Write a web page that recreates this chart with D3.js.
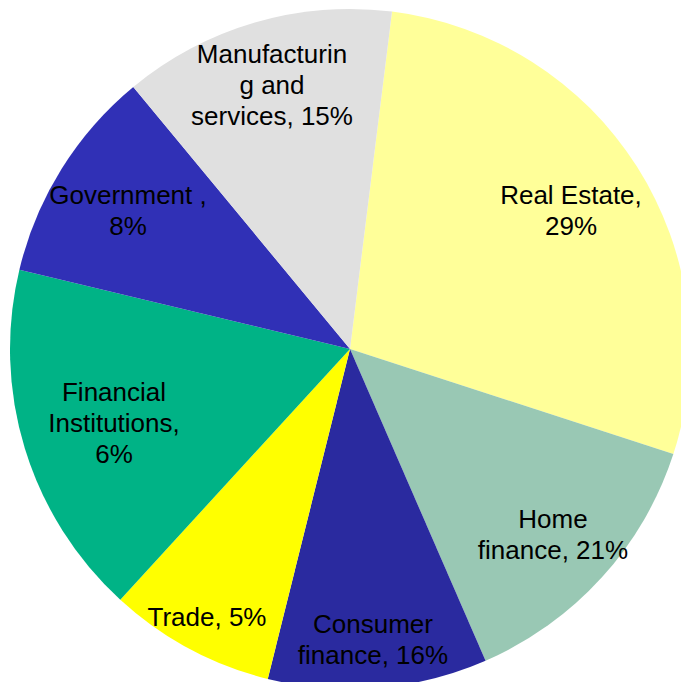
<!DOCTYPE html>
<html>
<head>
<meta charset="utf-8">
<script src="https://cdn.jsdelivr.net/npm/d3@7/dist/d3.min.js"></script>
<style>
  html, body { margin: 0; padding: 0; background: #ffffff; }
  svg { display: block; }
</style>
</head>
<body>
<div id="chart"></div>
<script>
// ---- data (slice shares, in degrees of the circle) ----
const categories = ["Real Estate", "Home finance", "Consumer finance", "Trade",
                    "Financial Institutions", "Government", "Manufacturing and services"];
const values = [100.9, 48.5, 37.5, 28.5, 61.0, 36.9, 46.7];
const labelLines = [
  ["Real Estate,", "29%"],
  ["Home", "finance, 21%"],
  ["Consumer", "finance, 16%"],
  ["Trade, 5%"],
  ["Financial", "Institutions,", "6%"],
  ["Government ,", "8%"],
  ["Manufacturin", "g and", "services, 15%"]
];
const colors = ["#FFFF99", "#99C8B4", "#2A2A9F", "#FFFF00", "#00B386", "#3030B6", "#E0E0E0"];

// ---- layout ----
const W = 681, H = 682;
const cx = 350, cy = 349, R = 340;
const startDeg = 7.1;
// label centres (first line centre) per slice, layout only
const labelAnchors = [
  [571, 195], [553, 519], [373, 624], [207, 617],
  [114, 392], [128, 195], [272, 54]
];
const lineH = 31;

const svg = d3.select("#chart").append("svg")
  .attr("width", W).attr("height", H);

const pie = d3.pie().sort(null).value(d => d)
  .startAngle(startDeg * Math.PI / 180)
  .endAngle(startDeg * Math.PI / 180 + 2 * Math.PI);

const arc = d3.arc().innerRadius(0).outerRadius(R);

const g = svg.append("g").attr("transform", `translate(${cx},${cy})`);

g.selectAll("path.slice")
  .data(pie(values))
  .join("path")
  .attr("class", "slice")
  .attr("d", arc)
  .attr("fill", (d, i) => colors[i]);

const labels = svg.selectAll("text.lbl")
  .data(labelLines)
  .join("text")
  .attr("class", "lbl")
  .attr("text-anchor", "middle")
  .attr("font-family", "Liberation Sans, Arial, sans-serif")
  .attr("font-size", 26)
  .attr("fill", "#000");

labels.each(function(lines, i) {
  const t = d3.select(this);
  const [x, y] = labelAnchors[i];
  lines.forEach((ln, j) => {
    t.append("tspan")
      .attr("x", x)
      .attr("y", y + j * lineH)
      .attr("dy", "0.35em")
      .text(ln);
  });
});
</script>
</body>
</html>
